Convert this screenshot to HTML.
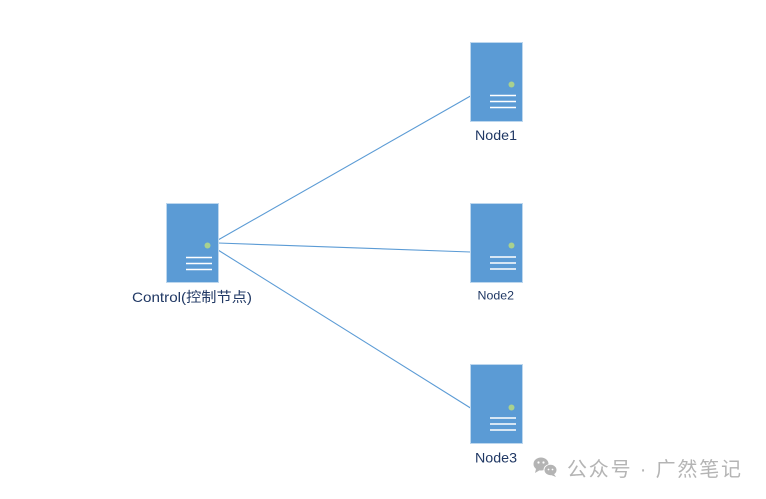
<!DOCTYPE html>
<html>
<head>
<meta charset="utf-8">
<style>
html,body{margin:0;padding:0;background:#fff;}
body{width:766px;height:499px;overflow:hidden;position:relative;}
svg{position:absolute;left:0;top:0;}
</style>
</head>
<body>
<svg width="766" height="499" viewBox="0 0 766 499" xmlns="http://www.w3.org/2000/svg">
  <rect x="0" y="0" width="766" height="499" fill="#ffffff"/>
  <!-- connectors -->
  <g stroke="#5b9bd5" stroke-width="1.1" fill="none">
    <line x1="218" y1="240" x2="470.5" y2="96"/>
    <line x1="218" y1="243" x2="470.5" y2="252"/>
    <line x1="218" y1="250" x2="470.5" y2="408"/>
  </g>
  <!-- servers -->
  <g id="srv">
    <!-- Control -->
    <rect x="166.5" y="203.5" width="52" height="79" fill="#5b9bd5" stroke="#bdd7ee" stroke-width="1"/>
    <circle cx="207.5" cy="245.5" r="3" fill="#a9d18e"/>
    <g stroke="#ffffff" stroke-width="1.6">
      <line x1="186" y1="257.5" x2="212" y2="257.5"/>
      <line x1="186" y1="263.5" x2="212" y2="263.5"/>
      <line x1="186" y1="269.5" x2="212" y2="269.5"/>
    </g>
    <!-- Node1 -->
    <rect x="470.5" y="42.5" width="52" height="79" fill="#5b9bd5" stroke="#bdd7ee" stroke-width="1"/>
    <circle cx="511.5" cy="84.5" r="3" fill="#a9d18e"/>
    <g stroke="#ffffff" stroke-width="1.6">
      <line x1="490" y1="95.5" x2="516" y2="95.5"/>
      <line x1="490" y1="101.5" x2="516" y2="101.5"/>
      <line x1="490" y1="107.5" x2="516" y2="107.5"/>
    </g>
    <!-- Node2 -->
    <rect x="470.5" y="203.5" width="52" height="79" fill="#5b9bd5" stroke="#bdd7ee" stroke-width="1"/>
    <circle cx="511.5" cy="245.5" r="3" fill="#a9d18e"/>
    <g stroke="#ffffff" stroke-width="1.6">
      <line x1="490" y1="257" x2="516" y2="257"/>
      <line x1="490" y1="263" x2="516" y2="263"/>
      <line x1="490" y1="269" x2="516" y2="269"/>
    </g>
    <!-- Node3 -->
    <rect x="470.5" y="364.5" width="52" height="79" fill="#5b9bd5" stroke="#bdd7ee" stroke-width="1"/>
    <circle cx="511.5" cy="407.5" r="3" fill="#a9d18e"/>
    <g stroke="#ffffff" stroke-width="1.6">
      <line x1="490" y1="418" x2="516" y2="418"/>
      <line x1="490" y1="424" x2="516" y2="424"/>
      <line x1="490" y1="430" x2="516" y2="430"/>
    </g>
  </g>
  <!-- labels -->
  <g fill="#203864" font-family="'Liberation Sans','Noto Sans CJK SC',sans-serif">
    <text x="132" y="302" font-size="14" textLength="120" lengthAdjust="spacingAndGlyphs">Control(控制节点)</text>
    <text x="475" y="140" font-size="14" textLength="42" lengthAdjust="spacingAndGlyphs">Node1</text>
    <text x="477.5" y="299.5" font-size="12" textLength="36.5" lengthAdjust="spacingAndGlyphs">Node2</text>
    <text x="475" y="462.5" font-size="14" textLength="42" lengthAdjust="spacingAndGlyphs">Node3</text>
  </g>
  <!-- watermark -->
  <g fill="#b4b4b4">
    <ellipse cx="541" cy="464" rx="7.5" ry="6.5"/>
    <path d="M536 469 L535 473 L540 470 Z"/>
    <ellipse cx="550.5" cy="470" rx="7" ry="6" fill="#ffffff"/>
    <ellipse cx="550.5" cy="470" rx="6" ry="5.2"/>
    <path d="M554 474 L556 477 L551 475 Z"/>
    <circle cx="538.5" cy="462.5" r="1.1" fill="#fff"/>
    <circle cx="543.5" cy="462.5" r="1.1" fill="#fff"/>
    <circle cx="548.5" cy="469.5" r="0.9" fill="#fff"/>
    <circle cx="552.5" cy="469.5" r="0.9" fill="#fff"/>
  </g>
  <text x="567" y="476" font-size="20" fill="#b4b4b4" font-family="'Liberation Sans','Noto Sans CJK SC',sans-serif" textLength="174" lengthAdjust="spacing">公众号 · 广然笔记</text>
</svg>
</body>
</html>
